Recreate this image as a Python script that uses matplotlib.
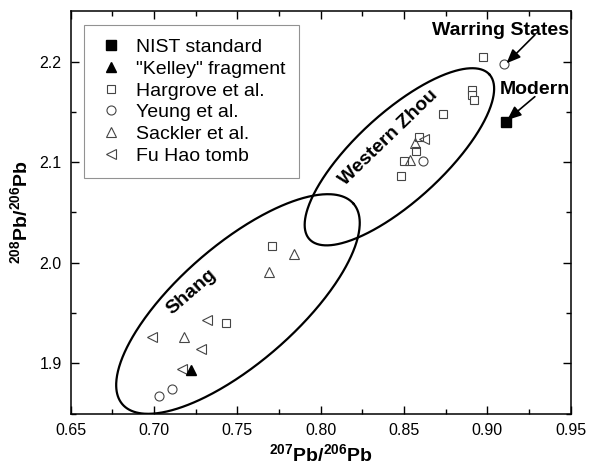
import numpy as np
import matplotlib
matplotlib.use("Agg")
import matplotlib.pyplot as plt

plt.rcParams['font.family'] = ['Liberation Sans', 'DejaVu Sans']
plt.rcParams['mathtext.fontset'] = 'custom'
plt.rcParams['mathtext.rm'] = 'Liberation Sans:bold'
plt.rcParams['mathtext.bf'] = 'Liberation Sans:bold'

# ---- data ----
nist_x = [0.911]
nist_y = [2.1405]
kelley_x = [0.722]
kelley_y = [1.893]
hargrove_x = [0.7708, 0.743, 0.848, 0.850, 0.857, 0.859, 0.8736, 0.8908, 0.8908, 0.8922, 0.8974]
hargrove_y = [2.017, 1.940, 2.086, 2.101, 2.111, 2.125, 2.148, 2.172, 2.167, 2.162, 2.2048]
yeung_x = [0.7028, 0.7106, 0.8616, 0.9098]
yeung_y = [1.8675, 1.8745, 2.1008, 2.1975]
sackler_x = [0.718, 0.769, 0.7838, 0.8536, 0.8566]
sackler_y = [1.926, 1.991, 2.009, 2.102, 2.1187]
fuhao_x = [0.6988, 0.717, 0.7284, 0.732, 0.862]
fuhao_y = [1.926, 1.894, 1.914, 1.943, 2.123]

x_ticks = [0.65, 0.70, 0.75, 0.80, 0.85, 0.90, 0.95]
y_ticks = [1.9, 2.0, 2.1, 2.2]

fig = plt.figure(figsize=(5.91, 4.70), dpi=100)
ax = fig.add_axes([70.7 / 591, 1 - 413.6 / 470, (570.5 - 70.7) / 591, (413.6 - 11.4) / 470])
ax.set_xlim(0.65, 0.95)
ax.set_ylim(1.85, 2.25)

edge = '#454545'
ms = 6
ax.plot(hargrove_x, hargrove_y, 's', ms=ms, mfc='white', mec=edge, mew=0.8, ls='none', label='Hargrove et al.', zorder=3)
ax.plot(yeung_x, yeung_y, 'o', ms=ms + 0.5, mfc='white', mec=edge, mew=0.8, ls='none', label='Yeung et al.', zorder=3)
ax.plot(sackler_x, sackler_y, '^', ms=ms + 1.5, mfc='none', mec=edge, mew=0.8, ls='none', label='Sackler et al.', zorder=3)
ax.plot(fuhao_x, fuhao_y, '<', ms=ms + 1.5, mfc='none', mec=edge, mew=0.8, ls='none', label='Fu Hao tomb', zorder=3)
ax.plot(nist_x, nist_y, 's', ms=ms + 0.5, mfc='black', mec='black', ls='none', label='NIST standard', zorder=4)
ax.plot(kelley_x, kelley_y, '^', ms=ms + 1.5, mfc='black', mec='black', ls='none', label='"Kelley" fragment', zorder=4)

handles, labels = ax.get_legend_handles_labels()
order = [4, 5, 0, 1, 2, 3]
leg = ax.legend([handles[i] for i in order], [labels[i] for i in order],
                loc='upper left', bbox_to_anchor=(13.3 / 499.8, 1 - 13.6 / 402.2),
                frameon=True, fancybox=False, edgecolor='#777777', fontsize=14,
                borderpad=0.7, labelspacing=0.21, handlelength=1.34, handletextpad=0.62,
                borderaxespad=0)
leg.get_frame().set_linewidth(0.8)

# ellipses drawn in display space around a data-space centre
def draw_ellipse(cx, cy, a_px, b_px, ang_deg):
    c = ax.transData.transform((cx, cy))
    t = np.linspace(0, 2 * np.pi, 500)
    th = np.deg2rad(ang_deg)
    u = np.array([np.cos(th), np.sin(th)])
    v = np.array([-np.sin(th), np.cos(th)])
    pts = c + np.outer(a_px * np.cos(t), u) + np.outer(b_px * np.sin(t), v)
    d = ax.transData.inverted().transform(pts)
    ax.plot(d[:, 0], d[:, 1], color='black', lw=1.6, zorder=2)

draw_ellipse(0.7504, 1.959, 153, 59, 41)
draw_ellipse(0.8473, 2.1054, 122, 44, 42.5)

ax.text(0.7226, 1.9712, 'Shang', rotation=41, ha='center', va='center',
        fontsize=14, fontweight='bold', rotation_mode='anchor')
ax.text(0.841, 2.1248, 'Western Zhou', rotation=44, ha='center', va='center',
        fontsize=14, fontweight='bold', rotation_mode='anchor')

ax.text(0.9079, 2.2315, 'Warring States', ha='center', va='center', fontsize=14, fontweight='bold')
ax.text(0.9289, 2.1719, 'Modern', ha='center', va='center', fontsize=14, fontweight='bold')
arrow = dict(arrowstyle='-|>,head_length=0.6,head_width=0.25', color='black', lw=1.2,
             mutation_scale=14, shrinkA=0, shrinkB=0)
ax.annotate('', xy=(0.9116, 2.1984), xytext=(0.9286, 2.2266), arrowprops=arrow)
ax.annotate('', xy=(0.912, 2.142), xytext=(0.9286, 2.1652), arrowprops=arrow)

ax.set_xticks(x_ticks)
ax.set_xticklabels([f'{v:.2f}' for v in x_ticks])
ax.set_yticks(y_ticks)
ax.set_yticklabels([f'{v:.1f}' for v in y_ticks])
ax.set_xticks(np.arange(0.675, 0.95, 0.05), minor=True)
ax.set_yticks(np.arange(1.85, 2.25, 0.05), minor=True)
ax.tick_params(which='both', direction='in', top=True, right=True, labelsize=11.5, width=1.0)
ax.tick_params(which='major', length=6)
ax.tick_params(which='minor', length=3.5)
ax.tick_params(axis='x', pad=7)
ax.tick_params(axis='y', pad=6.5)
for s in ax.spines.values():
    s.set_linewidth(1.1)

ax.set_xlabel('$^{207}$Pb/$^{206}$Pb', fontsize=14, fontweight='bold', labelpad=4)
ax.set_ylabel('$^{208}$Pb/$^{206}$Pb', fontsize=14, fontweight='bold', labelpad=5)

fig.savefig('out.png', dpi=100)
